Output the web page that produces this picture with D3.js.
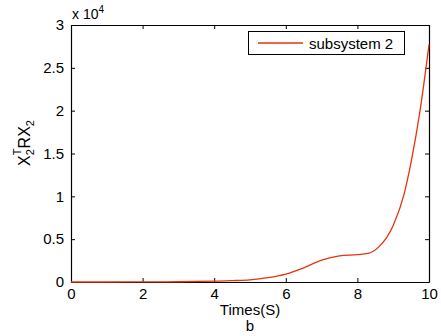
<!DOCTYPE html>
<html>
<head>
<meta charset="utf-8">
<script src="https://cdn.jsdelivr.net/npm/d3@7"></script>
<style>
  body { margin: 0; background: #fff; }
  svg { display: block; font-family: "Liberation Sans", Arial, sans-serif; }
</style>
</head>
<body>
<div id="chart"></div>
<script>
// data (y in units of 1e4)
const times = [0, 1, 2, 3, 4, 4.5, 5, 5.5, 6, 6.5, 7, 7.5, 8, 8.3, 8.6, 9, 9.3, 9.5, 9.75, 10];
const values = [0, 0, 0.001, 0.003, 0.01, 0.016, 0.025, 0.05, 0.092, 0.165, 0.255, 0.305, 0.32, 0.335, 0.41, 0.66, 1.02, 1.4, 2.0, 2.77];
const xTicks = [0, 2, 4, 6, 8, 10];
const yTicks = [0, 0.5, 1, 1.5, 2, 2.5, 3];
const seriesName = "subsystem 2";

const width = 441, height = 336;
const margin = {left: 71, right: 12, top: 25, bottom: 54};

const svg = d3.select("#chart").append("svg")
    .attr("width", width)
    .attr("height", height);

const x = d3.scaleLinear().domain([0, 10]).range([margin.left, width - margin.right]);
const y = d3.scaleLinear().domain([0, 3]).range([height - margin.bottom, margin.top]);

const tickLen = 4;

// bottom axis
const gx = svg.append("g")
    .attr("transform", `translate(0,${height - margin.bottom})`)
    .call(d3.axisBottom(x).tickValues(xTicks).tickSizeInner(-tickLen).tickSizeOuter(0).tickPadding(6).tickFormat(d3.format("d")));
// top axis (ticks only)
const gxt = svg.append("g")
    .attr("transform", `translate(0,${margin.top})`)
    .call(d3.axisTop(x).tickValues(xTicks).tickSizeInner(-tickLen).tickSizeOuter(0).tickFormat(""));
// left axis
const gy = svg.append("g")
    .attr("transform", `translate(${margin.left},0)`)
    .call(d3.axisLeft(y).tickValues(yTicks).tickSizeInner(-tickLen).tickSizeOuter(0).tickPadding(7).tickFormat(d => d));
// right axis (ticks only)
const gyr = svg.append("g")
    .attr("transform", `translate(${width - margin.right},0)`)
    .call(d3.axisRight(y).tickValues(yTicks).tickSizeInner(-tickLen).tickSizeOuter(0).tickFormat(""));

[gx, gxt, gy, gyr].forEach(g => {
    g.attr("font-size", 15).attr("font-family", "Liberation Sans, Arial, sans-serif");
    g.select(".domain").attr("stroke", "#000").attr("stroke-width", 1.2);
    g.selectAll(".tick line").attr("stroke", "#000");
    g.selectAll(".tick text").attr("fill", "#000");
});

// curve
const line = d3.line()
    .x((d, i) => x(times[i]))
    .y(d => y(d))
    .curve(d3.curveMonotoneX);

svg.append("path")
    .datum(values)
    .attr("fill", "none")
    .attr("stroke", "#e5330f")
    .attr("stroke-width", 1.3)
    .attr("d", line);

// exponent label
const expo = svg.append("text")
    .attr("x", margin.left + 1)
    .attr("y", margin.top - 6)
    .attr("font-size", 14)
    .text("x 10");
expo.append("tspan").attr("font-size", 10).attr("dy", -6).text("4");

// axis titles
svg.append("text")
    .attr("x", x(5))
    .attr("y", 315)
    .attr("text-anchor", "middle")
    .attr("font-size", 15)
    .text("Times(S)");
svg.append("text")
    .attr("x", x(5))
    .attr("y", 331)
    .attr("text-anchor", "middle")
    .attr("font-size", 15)
    .text("b");

const yl = svg.append("text")
    .attr("transform", `translate(30,${143}) rotate(-90)`)
    .attr("text-anchor", "middle")
    .attr("font-size", 16);
yl.append("tspan").text("X");
yl.append("tspan").attr("font-size", 11).attr("dy", 4).text("2");
yl.append("tspan").attr("font-size", 11).attr("dx", -6).attr("dy", -13).text("T");
yl.append("tspan").attr("dy", 9).text("RX");
yl.append("tspan").attr("font-size", 11).attr("dy", 4).text("2");

// legend
const lg = svg.append("g");
lg.append("rect")
    .attr("x", 248.5).attr("y", 31.5)
    .attr("width", 156).attr("height", 23)
    .attr("fill", "#fff").attr("stroke", "#000").attr("stroke-width", 1);
lg.append("line")
    .attr("x1", 258).attr("x2", 303)
    .attr("y1", 43).attr("y2", 43)
    .attr("stroke", "#e5330f").attr("stroke-width", 1.3);
lg.append("text")
    .attr("x", 309).attr("y", 48.5)
    .attr("font-size", 15)
    .text(seriesName);
</script>
</body>
</html>
